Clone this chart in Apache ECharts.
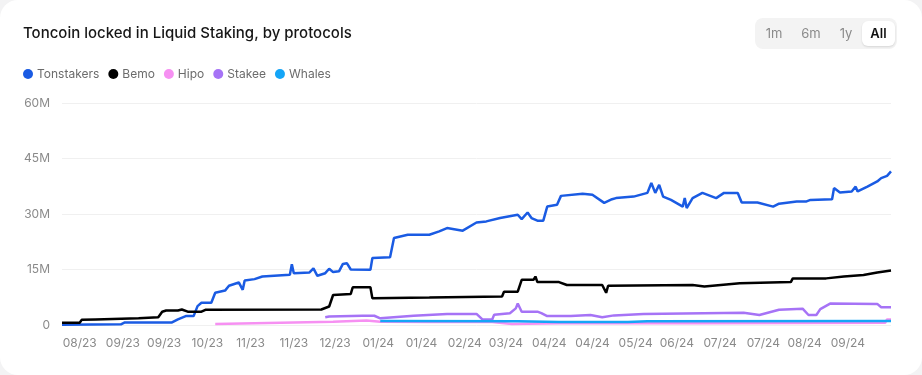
<!DOCTYPE html>
<html>
<head>
<meta charset="utf-8">
<script src="https://cdn.jsdelivr.net/npm/echarts@6/dist/echarts.min.js"></script>
<style>
  html, body { margin: 0; padding: 0; background: #f3f3f4; }
  #card { width: 922px; height: 375px; background: #fff; border-radius: 18px; overflow: hidden; }
  #chart { width: 922px; height: 375px; }
</style>
</head>
<body>
<div id="card"><div id="chart"></div></div>
<script>
// ---- data (values in millions of TON) ----
const START_DATE = '2023-08-01';
const DAY_COUNT = 423;
const tickDates = ['2023-08-10','2023-09-01','2023-09-22','2023-10-14','2023-11-05','2023-11-27',
  '2023-12-18','2024-01-09','2024-01-31','2024-02-22','2024-03-14','2024-04-05','2024-04-27',
  '2024-05-19','2024-06-09','2024-07-01','2024-07-23','2024-08-13','2024-09-04'];
const yTicks = [0, 15, 30, 45, 60];
const seriesNames = ['Tonstakers', 'Bemo', 'Hipo', 'Stakee', 'Whales'];
const seriesColors = ['#1a5be3', '#000000', '#f690f2', '#a673f6', '#14a5f7'];

const tonstakers = [
  ['2023-08-01',0.1],['2023-08-31',0.2],['2023-09-02',0.7],['2023-09-26',0.7],['2023-09-29',1.5],
  ['2023-10-03',2.4],['2023-10-07',2.4],['2023-10-09',5.1],['2023-10-11',6.0],['2023-10-16',6.0],
  ['2023-10-18',8.7],['2023-10-23',9.3],['2023-10-25',10.6],['2023-10-30',11.5],['2023-11-01',9.5],
  ['2023-11-02',12.0],['2023-11-07',12.4],['2023-11-11',13.1],['2023-11-25',13.6],['2023-11-26',16.4],
  ['2023-11-27',14.0],['2023-12-05',14.2],['2023-12-07',15.3],['2023-12-09',13.3],['2023-12-13',14.0],
  ['2023-12-15',15.2],['2023-12-17',14.3],['2023-12-20',14.5],['2023-12-22',16.5],['2023-12-24',16.7],
  ['2023-12-26',15.0],['2024-01-05',14.9],['2024-01-06',18.1],['2024-01-15',18.3],['2024-01-17',23.5],
  ['2024-01-24',24.4],['2024-02-04',24.4],['2024-02-09',25.3],['2024-02-13',26.2],['2024-02-21',25.5],
  ['2024-02-28',27.7],['2024-03-04',28.0],['2024-03-11',28.9],['2024-03-20',29.8],['2024-03-22',28.6],
  ['2024-03-25',30.4],['2024-03-27',28.9],['2024-03-30',28.2],['2024-04-02',28.2],['2024-04-04',32.0],
  ['2024-04-09',32.5],['2024-04-11',34.9],['2024-04-22',35.5],['2024-04-27',35.2],['2024-05-03',33.0],
  ['2024-05-07',34.0],['2024-05-09',34.3],['2024-05-18',34.7],['2024-05-25',35.7],['2024-05-27',38.4],
  ['2024-05-29',35.7],['2024-05-31',37.9],['2024-06-02',34.7],['2024-06-06',33.8],['2024-06-12',32.0],
  ['2024-06-13',34.3],['2024-06-14',31.6],['2024-06-17',34.3],['2024-06-22',35.7],['2024-06-29',34.3],
  ['2024-07-03',35.7],['2024-07-10',35.7],['2024-07-12',33.1],['2024-07-20',33.1],['2024-07-28',32.0],
  ['2024-07-31',32.8],['2024-08-09',33.4],['2024-08-14',33.4],['2024-08-16',33.8],['2024-08-27',34.0],
  ['2024-08-28',37.0],['2024-08-31',35.8],['2024-09-06',36.1],['2024-09-08',37.4],['2024-09-09',36.1],
  ['2024-09-14',37.4],['2024-09-19',38.8],['2024-09-21',39.7],['2024-09-24',40.3],['2024-09-26',41.5]
];
const bemo = [
  ['2023-08-01',0.6],['2023-08-10',0.6],['2023-08-11',1.4],['2023-08-18',1.5],['2023-09-09',1.8],
  ['2023-09-19',2.1],['2023-09-21',3.6],['2023-09-23',3.9],['2023-09-29',3.9],['2023-10-01',4.2],
  ['2023-10-04',3.6],['2023-10-11',3.6],['2023-10-13',4.1],['2023-12-11',4.2],['2023-12-15',5.0],
  ['2023-12-17',8.1],['2023-12-26',8.4],['2023-12-27',10.2],['2024-01-05',10.2],['2024-01-06',7.2],
  ['2024-02-04',7.4],['2024-03-12',7.7],['2024-03-13',9.0],['2024-03-20',9.0],['2024-03-22',12.2],
  ['2024-03-28',12.2],['2024-03-29',13.1],['2024-03-30',11.6],['2024-04-10',11.6],['2024-04-14',10.8],
  ['2024-05-02',10.8],['2024-05-04',8.7],['2024-05-05',10.6],['2024-06-17',10.8],['2024-06-23',10.4],
  ['2024-07-11',11.3],['2024-08-06',11.6],['2024-08-07',12.6],['2024-08-24',12.6],['2024-09-02',13.1],
  ['2024-09-12',13.5],['2024-09-19',14.2],['2024-09-26',14.7]
];
const hipo = [
  ['2023-10-18',0.3],['2023-12-17',0.9],['2023-12-18',1.2],['2024-01-03',1.2],['2024-01-10',0.9],
  ['2024-02-04',0.8],['2024-03-07',0.8],['2024-03-08',0.3],['2024-03-17',0.3],['2024-03-18',0.6],
  ['2024-04-10',0.5],['2024-06-21',0.5],['2024-09-23',0.6],['2024-09-24',1.5],['2024-09-26',1.5]
];
const stakee = [
  ['2023-12-13',2.1],['2023-12-15',2.3],['2024-01-01',2.5],['2024-01-07',2.5],['2024-01-10',1.8],
  ['2024-01-27',2.5],['2024-02-13',3.0],['2024-02-28',3.0],['2024-03-02',1.5],['2024-03-07',1.5],
  ['2024-03-08',2.8],['2024-03-16',3.2],['2024-03-19',4.5],['2024-03-20',5.8],['2024-03-22',3.6],
  ['2024-03-30',3.6],['2024-04-01',3.2],['2024-04-04',2.4],['2024-04-16',2.4],['2024-04-26',2.7],
  ['2024-05-02',2.1],['2024-05-08',2.6],['2024-05-23',3.0],['2024-07-13',3.3],['2024-07-21',2.7],
  ['2024-07-31',4.1],['2024-08-12',4.4],['2024-08-15',2.7],['2024-08-19',2.7],['2024-08-21',4.3],
  ['2024-08-26',5.8],['2024-09-19',5.7],['2024-09-21',4.8],['2024-09-26',4.8]
];
const whales = [
  ['2024-01-10',1.1],['2024-03-20',1.0],['2024-04-10',0.8],['2024-05-15',0.8],['2024-05-25',1.0],
  ['2024-09-26',1.1]
];
const seriesData = [tonstakers, bemo, hipo, stakee, whales];

// ---- build categories (daily dates) ----
const categories = [];
const d0 = new Date(START_DATE + 'T00:00:00Z');
for (let i = 0; i < DAY_COUNT; i++) {
  const d = new Date(d0.getTime() + i * 86400000);
  categories.push(d.toISOString().slice(0, 10));
}
const tickSet = new Set(tickDates);

const chart = echarts.init(document.getElementById('chart'));
const FONT = 'Inter, "Noto Sans", sans-serif';
chart.setOption({
  animation: false,
  textStyle: { fontFamily: FONT },
  title: {
    text: 'Toncoin locked in Liquid Staking, by protocols',
    left: 18, top: 21,
    textStyle: { fontSize: 15, fontWeight: 500, color: '#161616', fontFamily: FONT }
  },
  legend: {
    data: seriesNames,
    left: 18, top: 63,
    icon: 'circle', itemWidth: 10, itemHeight: 10, itemGap: 9,
    textStyle: { fontSize: 12, color: '#6b6b6b', fontFamily: FONT, padding: [0, 0, 0, -1] }
  },
  grid: { left: 62, right: 31, top: 103, bottom: 50, containLabel: false },
  xAxis: {
    type: 'category',
    data: categories,
    boundaryGap: false,
    axisLine: { show: false },
    axisTick: { show: false },
    axisLabel: {
      interval: (idx, val) => tickSet.has(val),
      formatter: v => v.slice(5, 7) + '/' + v.slice(2, 4),
      color: '#8a8a8a', fontSize: 12, margin: 12, fontFamily: FONT
    },
    splitLine: { show: false }
  },
  yAxis: {
    type: 'value',
    min: yTicks[0], max: yTicks[yTicks.length - 1], interval: yTicks[1] - yTicks[0],
    axisLabel: {
      formatter: v => v === 0 ? '0' : v + 'M',
      color: '#8a8a8a', fontSize: 12, margin: 12, fontFamily: FONT
    },
    splitLine: { lineStyle: { color: '#f0f0f0', width: 1 } },
    axisLine: { show: false }, axisTick: { show: false }
  },
  series: seriesNames.map((name, i) => ({
    name,
    type: 'line',
    data: seriesData[i],
    showSymbol: false,
    symbol: 'none',
    color: seriesColors[i],
    lineStyle: { width: 2.5, color: seriesColors[i] },
    z: 2 + i
  })),
  graphic: [
    {
      type: 'group', left: 755, top: 18,
      children: [
        { type: 'rect', shape: { x: 0, y: 0, width: 142, height: 31, r: 8 }, style: { fill: '#f3f3f3' } },
        { type: 'rect', shape: { x: 107, y: 3, width: 33, height: 25, r: 6 },
          style: { fill: '#ffffff', shadowBlur: 2, shadowColor: 'rgba(0,0,0,0.12)', shadowOffsetY: 1 } },
        { type: 'text', style: { x: 19, y: 16, text: '1m', fill: '#8a8a8a', font: '13px ' + FONT, align: 'center', verticalAlign: 'middle' } },
        { type: 'text', style: { x: 56, y: 16, text: '6m', fill: '#8a8a8a', font: '13px ' + FONT, align: 'center', verticalAlign: 'middle' } },
        { type: 'text', style: { x: 91, y: 16, text: '1y', fill: '#8a8a8a', font: '13px ' + FONT, align: 'center', verticalAlign: 'middle' } },
        { type: 'text', style: { x: 123.5, y: 16, text: 'All', fill: '#111111', font: '600 13px ' + FONT, align: 'center', verticalAlign: 'middle' } }
      ]
    }
  ]
});
</script>
</body>
</html>
